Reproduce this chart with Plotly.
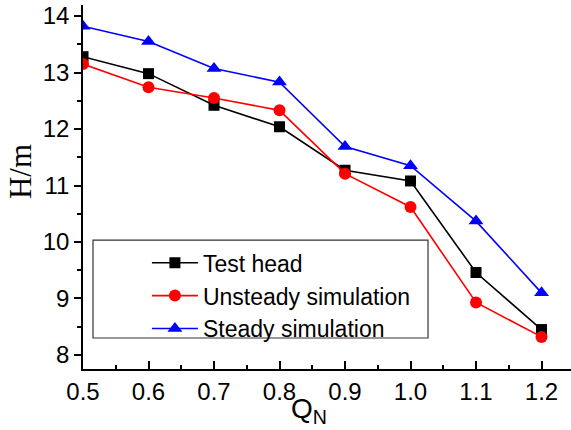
import plotly.graph_objects as go

q = [0.5, 0.6, 0.7, 0.8, 0.9, 1.0, 1.1, 1.2]
test_head = [13.28, 12.98, 12.42, 12.04, 11.27, 11.08, 9.46, 8.45]
unsteady = [13.15, 12.74, 12.55, 12.33, 11.21, 10.62, 8.93, 8.32]
steady = [13.82, 13.55, 13.07, 12.83, 11.69, 11.35, 10.37, 9.10]

x_ticks = [0.5, 0.6, 0.7, 0.8, 0.9, 1.0, 1.1, 1.2]
x_labels = ["0.5", "0.6", "0.7", "0.8", "0.9", "1.0", "1.1", "1.2"]
y_ticks = [8, 9, 10, 11, 12, 13, 14]

fig = go.Figure()
fig.add_trace(go.Scatter(x=q, y=test_head, name="Test head", mode="lines+markers",
                         line=dict(color="#000000", width=1.6),
                         marker=dict(symbol="square", size=11, color="#000000")))
fig.add_trace(go.Scatter(x=q, y=unsteady, name="Unsteady simulation", mode="lines+markers",
                         line=dict(color="#FF0000", width=1.6),
                         marker=dict(symbol="circle", size=12, color="#FF0000")))
fig.add_trace(go.Scatter(x=q, y=steady, name="Steady simulation", mode="lines+markers",
                         line=dict(color="#0000FF", width=1.6),
                         marker=dict(symbol="triangle-up", size=13, color="#0000FF")))

fig.update_layout(
    width=571, height=430,
    margin=dict(l=83, r=0, t=5, b=61),
    paper_bgcolor="white", plot_bgcolor="white",
    font=dict(family="Liberation Sans, Arial", size=24, color="black"),
    showlegend=True,
    legend=dict(x=0.131, y=0.351, xanchor="left", yanchor="top",
                borderwidth=0, bgcolor="rgba(0,0,0,0)",
                font=dict(size=23), itemwidth=46, tracegroupgap=0),
    xaxis=dict(range=[0.5, 1.245], tickvals=x_ticks, ticktext=x_labels,
               showline=True, linecolor="black", linewidth=1.6,
               ticks="inside", ticklen=8, tickwidth=1.6, tickcolor="black",
               minor=dict(ticks="inside", dtick=0.05, ticklen=4, tickwidth=1.6, tickcolor="black"),
               showgrid=False, zeroline=False, tickfont=dict(size=24)),
    yaxis=dict(range=[7.752, 14.195], tickvals=y_ticks,
               showline=True, linecolor="black", linewidth=1.6,
               ticks="outside", ticklen=7, tickwidth=1.6, tickcolor="black",
               minor=dict(ticks="outside", dtick=0.5, ticklen=4, tickwidth=1.6, tickcolor="black"),
               showgrid=False, zeroline=False, tickfont=dict(size=24)),
)

# legend frame
fig.add_shape(type="rect", xref="paper", yref="paper",
              x0=0.0205, x1=0.707, y0=0.0852, y1=0.354,
              line=dict(color="#333333", width=1.2), fillcolor="rgba(0,0,0,0)", layer="below")

fig.add_annotation(text="H/m", xref="paper", yref="paper", x=-0.129, y=0.541,
                   xanchor="center", yanchor="middle",
                   textangle=-90, showarrow=False,
                   font=dict(family="Liberation Serif, Times New Roman", size=31, color="black"))
fig.add_annotation(text="Q<sub style='font-size:15px'>N</sub>", xref="paper", yref="paper",
                   x=0.463, y=-0.113, xanchor="center", yanchor="middle", showarrow=False,
                   font=dict(family="Liberation Sans, Arial", size=28, color="black"))

fig.write_html("out.html")
